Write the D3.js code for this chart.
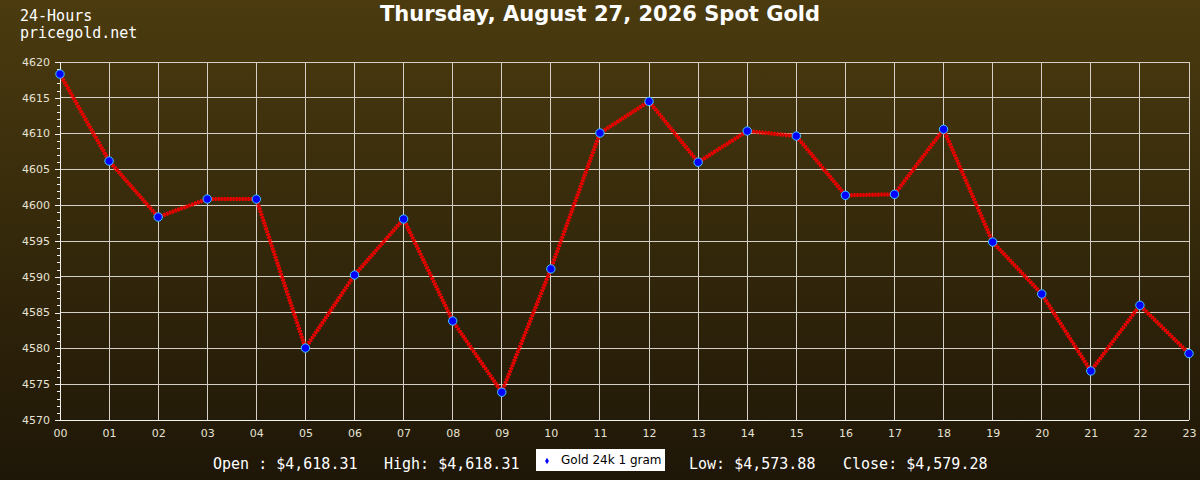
<!DOCTYPE html>
<html>
<head>
<meta charset="utf-8">
<script src="https://cdn.jsdelivr.net/npm/d3@7"></script>
<style>
  html, body { margin: 0; padding: 0; background: #1f1707; }
  svg { display: block; }
  .tick-label { font-family: 'DejaVu Sans', sans-serif; font-size: 11px; fill: #e6e2d4; }
  .mono { font-family: 'DejaVu Sans Mono', monospace; font-size: 15px; fill: #ffffff; }
</style>
</head>
<body>
<div id="chart"></div>
<script>
const hours = ['00','01','02','03','04','05','06','07','08','09','10','11','12','13','14','15','16','17','18','19','20','21','22','23']
const prices = [4618.31, 4606.17, 4598.35, 4600.87, 4600.85, 4580.05, 4590.25, 4598.07, 4583.83, 4573.88, 4591.1, 4610.08,
  4614.5, 4606.0, 4610.36, 4609.66, 4601.38, 4601.52, 4610.6, 4594.86, 4587.6, 4576.84, 4586.02, 4579.28]
const yTicks = [4570, 4575, 4580, 4585, 4590, 4595, 4600, 4605, 4610, 4615, 4620]
const titleText = 'Thursday, August 27, 2026 Spot Gold'
const cornerLines = ['24-Hours', 'pricegold.net']
const statsLeft = ['Open : $4,618.31', 'High: $4,618.31']
const statsRight = ['Low: $4,573.88', 'Close: $4,579.28']
const seriesName = 'Gold 24k 1 gram'

const width = 1200
const height = 480
const margin = { top: 62, right: 11, bottom: 60, left: 60 }
const innerW = width - margin.left - margin.right
const innerH = height - margin.top - margin.bottom

const svg = d3.select('#chart').append('svg').attr('width', width).attr('height', height)

const grad = svg.append('defs').append('linearGradient')
  .attr('id', 'bg').attr('x1', 0).attr('y1', 0).attr('x2', 0).attr('y2', 1)
grad.append('stop').attr('offset', '0%').attr('stop-color', '#4b3b0f')
grad.append('stop').attr('offset', '100%').attr('stop-color', '#1e1607')
svg.append('rect').attr('width', width).attr('height', height).attr('fill', 'url(#bg)')

// title + corner text
svg.append('text')
  .attr('x', width / 2).attr('y', 21)
  .attr('text-anchor', 'middle')
  .attr('font-family', "'DejaVu Sans', sans-serif")
  .attr('font-weight', 'bold').attr('font-size', 21)
  .attr('fill', '#ffffff')
  .text(titleText)

svg.selectAll('.corner').data(cornerLines).join('text')
  .attr('class', 'mono corner')
  .attr('x', 20).attr('y', (d, i) => 21 + i * 17)
  .attr('font-size', 14)
  .text((d) => d)

const g = svg.append('g').attr('transform', `translate(${margin.left},${margin.top})`)

const x = d3.scalePoint().domain(hours).range([0, innerW])
const y = d3.scaleLinear().domain([4570, 4620]).range([innerH, 0])

// grid
g.append('g').selectAll('line').data(hours.slice(1)).join('line')
  .attr('x1', (d) => x(d)).attr('x2', (d) => x(d))
  .attr('y1', 0).attr('y2', innerH)
  .attr('stroke', '#d4d0c8').attr('stroke-width', 1).attr('shape-rendering', 'crispEdges')
g.append('g').selectAll('line').data(yTicks.slice(1)).join('line')
  .attr('x1', 0).attr('x2', innerW)
  .attr('y1', (d) => y(d)).attr('y2', (d) => y(d))
  .attr('stroke', '#d4d0c8').attr('stroke-width', 1).attr('shape-rendering', 'crispEdges')

// y axis with minor ticks
const yAxisG = g.append('g')
  .call(d3.axisLeft(y).tickValues(d3.range(4570, 4621, 1)).tickSize(3).tickFormat(''))
yAxisG.selectAll('.tick').filter((d) => d % 5 === 0).select('line').attr('x2', -5)
yAxisG.selectAll('line, path').attr('stroke', '#f0f0f0').attr('shape-rendering', 'crispEdges')
yAxisG.select('.domain').attr('d', `M0,0V${innerH}`)

g.append('g').selectAll('text').data(yTicks).join('text')
  .attr('class', 'tick-label')
  .attr('x', -10).attr('y', (d) => y(d)).attr('dy', '0.35em')
  .attr('text-anchor', 'end')
  .text((d) => d)

// x axis
const xAxisG = g.append('g').attr('transform', `translate(0,${innerH})`)
  .call(d3.axisBottom(x).tickSize(0).tickPadding(9))
xAxisG.select('.domain').attr('stroke', '#f0f0f0').attr('d', `M0,0H${innerW}`).attr('shape-rendering', 'crispEdges')
xAxisG.selectAll('text').attr('class', 'tick-label').attr('font-size', null).attr('font-family', null).attr('fill', null)

// price line
const line = d3.line().x((d, i) => x(hours[i])).y((d) => y(d))
g.append('path').datum(prices)
  .attr('d', line).attr('fill', 'none')
  .attr('stroke', '#ff0000').attr('stroke-width', 4).attr('stroke-dasharray', '2,1')
g.append('path').datum(prices)
  .attr('d', line).attr('fill', 'none')
  .attr('stroke', '#e00000').attr('stroke-width', 1.5)

g.append('g').selectAll('circle').data(prices).join('circle')
  .attr('cx', (d, i) => x(hours[i])).attr('cy', (d) => y(d))
  .attr('r', 4.2)
  .attr('fill', '#0000ff').attr('stroke', '#40c8ff').attr('stroke-width', 1)

// footer stats
const footerY = 469
svg.selectAll('.statL').data(statsLeft).join('text')
  .attr('class', 'mono statL')
  .attr('x', (d, i) => [213, 384][i]).attr('y', footerY)
  .text((d) => d)
svg.selectAll('.statR').data(statsRight).join('text')
  .attr('class', 'mono statR')
  .attr('x', (d, i) => [689, 843][i]).attr('y', footerY)
  .text((d) => d)

// legend
const legend = svg.append('g').attr('transform', 'translate(536,449)')
legend.append('rect').attr('width', 129).attr('height', 22).attr('fill', '#ffffff')
legend.append('path')
  .attr('d', d3.symbol(d3.symbolDiamond, 12)())
  .attr('transform', 'translate(11,12)')
  .attr('fill', '#0000ff')
legend.append('text')
  .attr('x', 25).attr('y', 15)
  .attr('font-family', "'DejaVu Sans', sans-serif").attr('font-size', 12)
  .attr('fill', '#000000')
  .text(seriesName)
</script>
</body>
</html>
